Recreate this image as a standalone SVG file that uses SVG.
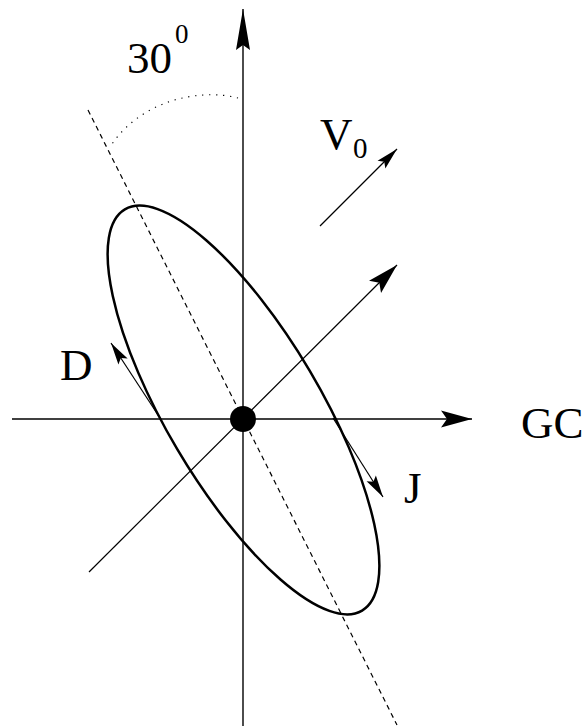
<svg xmlns="http://www.w3.org/2000/svg" width="584" height="726" viewBox="0 0 584 726">
<style>
.ax{stroke:#000;stroke-width:1.4;fill:none}
.thin{stroke:#000;stroke-width:1.2;fill:none}
.lbl{font-family:"Liberation Serif","Times New Roman",serif;fill:#000}
</style>
<defs>
<marker id="big" markerUnits="userSpaceOnUse" orient="auto" refX="0" refY="0" markerWidth="40" markerHeight="20" viewBox="-32 -10 34 20" overflow="visible">
<path d="M0,0 L-31,-8.5 L-25,0 L-31,8.5 Z" fill="#000"/>
</marker>
<marker id="vert" markerUnits="userSpaceOnUse" orient="auto" refX="0" refY="0" markerWidth="45" markerHeight="20" viewBox="-43 -10 45 20" overflow="visible">
<path d="M0,0 L-41,-7 L-36,0 L-41,7 Z" fill="#000"/>
</marker>
<marker id="small" markerUnits="userSpaceOnUse" orient="auto" refX="0" refY="0" markerWidth="30" markerHeight="14" viewBox="-24 -7 26 14" overflow="visible">
<path d="M0,0 L-22,-5.5 L-18,0 L-22,5.5 Z" fill="#000"/>
</marker>
</defs>
<g id="connectors">
<line class="ax" x1="243" y1="726" x2="243" y2="9" marker-end="url(#vert)"/>
<line class="ax" x1="12" y1="419" x2="472" y2="419" marker-end="url(#big)"/>
<line class="thin" x1="89" y1="572" x2="397" y2="265" marker-end="url(#big)"/>
<line class="thin" x1="320" y1="226" x2="397" y2="149" marker-end="url(#small)"/>
<line class="thin" x1="160" y1="418" x2="111" y2="343" marker-end="url(#small)"/>
<line class="thin" x1="333" y1="418" x2="383" y2="497" marker-end="url(#small)"/>
<line class="thin" x1="88" y1="110" x2="397" y2="725" stroke-dasharray="5 4"/>
<path class="thin" d="M238,98 C200,88 140,100 110,147" stroke-dasharray="1.2 5.8"/>
</g>
<g id="ellipse">
<ellipse cx="243.5" cy="410" rx="77" ry="233" transform="rotate(-30.6 243.5 410)" fill="none" stroke="#000" stroke-width="2.5"/>
</g>
<g id="origin">
<circle cx="243" cy="419" r="13" fill="#000"/>
</g>
<g id="label-30">
<text class="lbl" x="127" y="73" font-size="45">30</text>
<text class="lbl" x="175" y="43" font-size="27">0</text>
</g>
<g id="label-V0">
<text class="lbl" x="320" y="149" font-size="45">V</text>
<text class="lbl" x="353" y="158" font-size="29">0</text>
</g>
<g id="label-D">
<text class="lbl" x="60" y="380" font-size="45">D</text>
</g>
<g id="label-J">
<text class="lbl" x="404" y="503" font-size="45">J</text>
</g>
<g id="label-GC">
<text class="lbl" x="521" y="438" font-size="45">GC</text>
</g>
</svg>
